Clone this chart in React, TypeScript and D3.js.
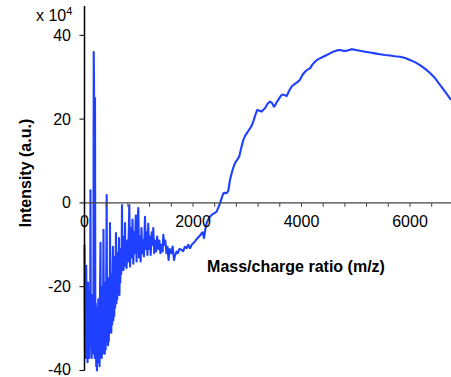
import React, { useEffect, useRef } from "react"
import * as d3 from "d3"

// low mass region: dense, noisy oscillations [m/z, intensity x1e4]
const noisyRegion: [number, number][] = [
    [0, -10], [8, -35], [16, -22], [24, -37], [32, -15], [40, -34], [48, -24], [56, -38],
    [64, -19], [72, -35], [80, -27], [88, -37], [96, -21], [104, -34], [110, 3], [116, -33],
    [124, -25], [132, -37], [140, -22], [148, -36], [156, -29], [164, -35], [170, 36], [176, 28],
    [182, -31], [188, -37], [194, 25], [200, -34], [208, -24], [216, -39], [224, -28], [230, -40],
    [238, -25], [246, -38], [254, -23], [262, -37], [270, -26], [278, -39], [286, -21], [295, -9.5],
    [302, -35], [310, -24], [318, -37], [326, -20], [334, -36], [342, -25], [350, -6.4], [358, -34],
    [366, -22], [374, -36], [382, -19], [390, -35], [398, -24], [409, 1.9], [416, -33], [424, -21],
    [432, -34], [440, -18], [448, -33], [456, -23], [464, -31], [470, -4.8], [478, -30], [486, -17],
    [494, -31], [502, -20], [510, -29], [518, -15], [525, -10.5], [532, -28], [540, -16], [548, -27],
    [556, -13], [564, -25], [572, -18], [580, -7.2], [588, -24], [596, -14], [604, -23], [612, -12],
    [620, -21], [628, -15], [636, -8.4], [644, -22], [652, -13], [660, -19], [668, -11], [676, -17],
    [684, -14], [691, -0.5], [700, -16], [710, -10], [720, -16], [730, -8], [740, -15], [747, -4.8],
    [756, -14], [766, -12], [776, -15.5], [790, -9], [805, -14], [826, -0.5], [840, -15.2], [855, -6],
    [870, -13], [885, -4], [900, -14.5], [915, -7], [930, -12], [945, -3], [960, -14], [975, -5],
    [992, -1.2], [1005, -13], [1020, -8], [1035, -14], [1050, -6], [1065, -12], [1080, -9], [1095, -12.8],
    [1115, -3.3], [1130, -11], [1145, -7], [1160, -12.4], [1175, -5], [1190, -11], [1205, -8], [1220, -12.4],
    [1240, -7], [1255, -10], [1268, -6], [1285, -12], [1300, -9], [1320, -11.6], [1340, -8], [1360, -11],
    [1380, -9], [1400, -12], [1420, -10], [1440, -11.6], [1453, -7.6], [1470, -10], [1490, -9], [1510, -12],
    [1530, -10.5], [1550, -13.6], [1570, -11], [1600, -12], [1625, -10.4], [1650, -13.6], [1670, -12.5],
    [1699, -11.6], [1720, -12], [1750, -11], [1791, -11.2], [1820, -11.5], [1850, -10.5], [1884, -10.8],
    [1910, -10],
]

// high mass region: broad smooth hump
const smoothRegion: [number, number][] = [
    [1945, -10.8], [1976, -10], [2005, -9.6], [2037, -9.2], [2070, -8.6], [2100, -8.2], [2129, -7.8],
    [2160, -7.2], [2178, -7.0], [2203, -8.4], [2225, -6.5], [2252, -4.8], [2280, -4.0], [2313, -3.3],
    [2350, -2.8], [2387, -2.5], [2436, -2.1], [2470, -1.0], [2498, -0.1], [2530, 1.2], [2559, 2.3],
    [2590, 2.4], [2621, 2.3], [2651, 2.9], [2682, 5.5], [2713, 7.1], [2745, 8.5], [2774, 9.5],
    [2810, 10.2], [2853, 11.1], [2890, 13.2], [2927, 15.0], [2960, 16.0], [2990, 16.6], [3020, 17.2],
    [3051, 17.8], [3080, 18.4], [3111, 19.4], [3150, 21.0], [3185, 22.2], [3225, 22.0], [3266, 21.8],
    [3300, 22.3], [3327, 22.6], [3370, 23.6], [3419, 24.2], [3460, 23.8], [3490, 23.0], [3511, 23.2],
    [3540, 24.0], [3572, 24.6], [3600, 25.2], [3635, 25.8], [3680, 25.8], [3727, 25.5], [3770, 26.7],
    [3819, 27.8], [3865, 28.3], [3912, 28.7], [3940, 29.0], [3972, 29.4], [4020, 30.6], [4065, 31.3],
    [4110, 31.8], [4157, 32.1], [4200, 33.0], [4249, 33.7], [4295, 34.2], [4341, 34.5], [4400, 34.9],
    [4465, 35.3], [4525, 35.7], [4586, 36.1], [4650, 36.4], [4710, 36.5], [4770, 36.3], [4833, 36.3],
    [4880, 36.5], [4925, 36.7], [5000, 36.5], [5078, 36.3], [5170, 36.1], [5263, 35.9], [5350, 35.7],
    [5447, 35.5], [5540, 35.3], [5631, 35.2], [5720, 35.0], [5816, 34.9], [5910, 34.6], [6000, 34.1],
    [6090, 33.6], [6184, 32.9], [6280, 32.0], [6369, 31.0], [6460, 29.8], [6553, 28.2], [6650, 26.5],
    [6756, 24.6],
]

const xMajorTicks = [0, 2000, 4000, 6000]
const xMinorTicks = d3.range(0, 6800, 400)
const yTicks = [-40, -20, 0, 20, 40]

const W = 451
const H = 377

const App = () => {
    const ref = useRef<SVGSVGElement>(null)

    useEffect(() => {
        const svg = d3.select(ref.current)
        svg.selectAll("*").remove()

        const x = d3.scaleLinear().domain([0, 6756]).range([84.5, 451])
        const y = d3.scaleLinear().domain([-40, 47]).range([370.5, 6])

        const font = "'Liberation Sans', Arial, sans-serif"

        // spectrum trace
        const line = d3.line<[number, number]>().x((d) => x(d[0])).y((d) => y(d[1]))
        svg.append("path")
            .datum(noisyRegion.concat(smoothRegion))
            .attr("d", line)
            .attr("fill", "none")
            .attr("stroke", "#2040ff")
            .attr("stroke-width", 2.1)
            .attr("stroke-linejoin", "round")

        // x axis through zero
        const xAxis = svg.append("g").attr("transform", `translate(0,${y(0)})`)
        xAxis.append("line").attr("x1", x(0)).attr("x2", W).attr("stroke", "#444").attr("stroke-width", 1.2)
        xAxis.selectAll("line.tick")
            .data(xMinorTicks)
            .enter()
            .append("line")
            .attr("class", "tick")
            .attr("x1", (d) => x(d))
            .attr("x2", (d) => x(d))
            .attr("y1", 0)
            .attr("y2", 4)
            .attr("stroke", "#444")
        xAxis.selectAll("text")
            .data(xMajorTicks)
            .enter()
            .append("text")
            .attr("x", (d) => x(d))
            .attr("y", 24.5)
            .attr("text-anchor", "middle")
            .style("font-family", font)
            .style("font-size", "16px")
            .text((d) => d)

        // y axis
        const yAxis = svg.append("g")
        yAxis.append("line").attr("x1", x(0)).attr("x2", x(0)).attr("y1", 6).attr("y2", y(-40)).attr("stroke", "#000").attr("stroke-width", 1.5)
        yAxis.selectAll("line.tick")
            .data(yTicks)
            .enter()
            .append("line")
            .attr("class", "tick")
            .attr("x1", x(0) - 5)
            .attr("x2", x(0))
            .attr("y1", (d) => y(d))
            .attr("y2", (d) => y(d))
            .attr("stroke", "#000")
        yAxis.selectAll("text")
            .data(yTicks)
            .enter()
            .append("text")
            .attr("x", 71)
            .attr("y", (d) => Math.min(y(d) + 5.5, H - 2))
            .attr("text-anchor", "end")
            .style("font-family", font)
            .style("font-size", "16px")
            .text((d) => d)

        // exponent label
        const exp = svg.append("text").attr("x", 36).attr("y", 21).style("font-family", font).style("font-size", "16px")
        exp.append("tspan").text("x 10")
        exp.append("tspan").attr("dy", -6).style("font-size", "11px").text("4")

        // axis titles
        svg.append("text")
            .attr("x", 296)
            .attr("y", 272)
            .attr("text-anchor", "middle")
            .style("font-family", font)
            .style("font-size", "16px")
            .style("font-weight", "bold")
            .text("Mass/charge ratio (m/z)")

        svg.append("text")
            .attr("transform", `translate(31,173) rotate(-90)`)
            .attr("text-anchor", "middle")
            .style("font-family", font)
            .style("font-size", "16px")
            .style("font-weight", "bold")
            .text("Intensity (a.u.)")
    }, [])

    return (
        <div style={{ position: "absolute", left: 0, top: 0, width: W, height: H, background: "#fff" }}>
            <svg ref={ref} width={W} height={H} />
        </div>
    )
}

export default App
